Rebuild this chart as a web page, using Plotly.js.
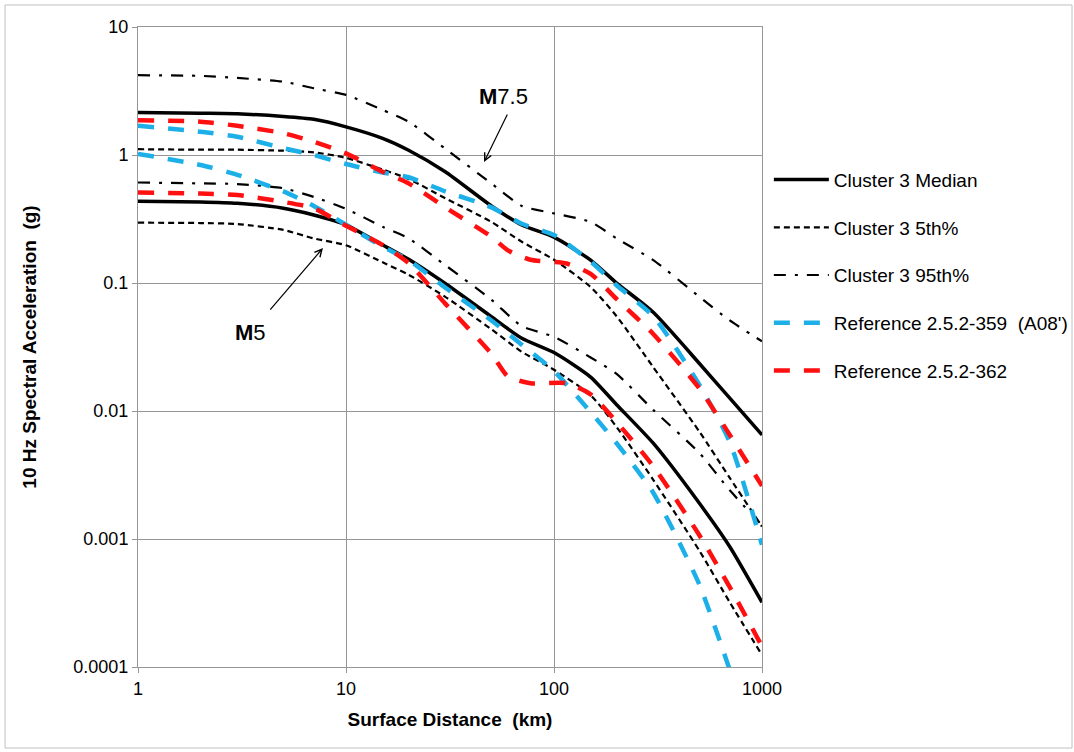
<!DOCTYPE html>
<html>
<head>
<meta charset="utf-8">
<script src="https://cdn.plot.ly/plotly-3.0.1.min.js"></script>
<style>
  html, body { margin: 0; padding: 0; background: #ffffff; }
  #chart { width: 1074px; height: 752px; }
</style>
</head>
<body>
<div id="chart"></div>
<script>
// ---- Data ----
const distanceKm = [1, 2, 3, 5, 7, 10, 15, 20, 30, 50, 70, 100, 150, 200, 300, 500, 700, 1000];
const distanceRed = [1, 2, 3, 5, 7, 10, 15, 20, 30, 50, 60, 77, 115, 150, 200, 300, 500, 700, 1000];
const distanceBlueM5 = [1, 2, 3, 5, 7, 10, 15, 20, 30, 50, 70, 100, 150, 200, 300, 500, 700, 750];

// M 7.5
const medianM75 = [2.15, 2.12, 2.1, 2.0, 1.9, 1.66, 1.35, 1.09, 0.74, 0.40, 0.284, 0.228, 0.151, 0.100, 0.059, 0.0235, 0.0126, 0.0065];
const p05M75    = [1.11, 1.10, 1.10, 1.08, 1.05, 0.95, 0.77, 0.65, 0.46, 0.30, 0.21, 0.152, 0.093, 0.055, 0.022, 0.0069, 0.0030, 0.00125];
const p95M75    = [4.2, 4.15, 4.0, 3.74, 3.32, 2.95, 2.25, 1.82, 1.12, 0.60, 0.40, 0.35, 0.30, 0.223, 0.151, 0.078, 0.051, 0.035];
const ref359M75 = [1.69, 1.52, 1.39, 1.13, 1.0, 0.85, 0.73, 0.67, 0.52, 0.39, 0.29, 0.237, 0.147, 0.096, 0.055, 0.016, 0.0057, 0.0009];
const ref362M75 = [1.87, 1.82, 1.69, 1.48, 1.27, 1.03, 0.74, 0.60, 0.39, 0.23, 0.18, 0.152, 0.142, 0.118, 0.075, 0.040, 0.0150, 0.0065, 0.0026];

// M 5
const medianM5 = [0.435, 0.43, 0.42, 0.384, 0.34, 0.285, 0.198, 0.153, 0.099, 0.0546, 0.037, 0.0286, 0.0184, 0.0112, 0.0056, 0.0019, 0.00087, 0.00032];
const p05M5    = [0.296, 0.294, 0.289, 0.26, 0.223, 0.197, 0.145, 0.116, 0.078, 0.0435, 0.029, 0.021, 0.0133, 0.0075, 0.0029, 0.00081, 0.00032, 0.000124];
const p95M5    = [0.61, 0.60, 0.593, 0.55, 0.47, 0.38, 0.275, 0.223, 0.138, 0.074, 0.046, 0.038, 0.0262, 0.0195, 0.0102, 0.0047, 0.0024, 0.00128];
const ref359M5 = [1.02, 0.836, 0.70, 0.52, 0.40, 0.285, 0.192, 0.151, 0.092, 0.051, 0.033, 0.0205, 0.0098, 0.0056, 0.0023, 0.00044, 0.000095, 0.00007];
const ref362M5 = [0.51, 0.50, 0.487, 0.43, 0.384, 0.28, 0.198, 0.143, 0.069, 0.028, 0.0186, 0.0165, 0.0165, 0.0135, 0.0082, 0.0037, 0.00107, 0.00042, 0.000145];

const seriesNames = ["Cluster 3 Median", "Cluster 3 5th%", "Cluster 3 95th%", "Reference 2.5.2-359  (A08')", "Reference 2.5.2-362"];
const xTickVals = [1, 10, 100, 1000];
const xTickText = ["1", "10", "100", "1000"];
const yTickVals = [10, 1, 0.1, 0.01, 0.001, 0.0001];
const yTickText = ["10", "1", "0.1", "0.01", "0.001", "0.0001"];

// ---- Styles ----
const FONT = "Liberation Sans, Arial, sans-serif";
const styles = [
  {color: "#000000", width: 3.5, dash: "solid"},
  {color: "#000000", width: 2.2, dash: "6px,4px"},
  {color: "#000000", width: 2.2, dash: "12px,9px,3px,9px"},
  {color: "#1DB0E8", width: 4.5, dash: "16px,14px"},
  {color: "#FF1010", width: 4.5, dash: "16px,14px"}
];

function mk(x, y, idx, show) {
  return {
    x: x, y: y, type: "scatter", mode: "lines",
    name: seriesNames[idx], legendgroup: "g" + idx, showlegend: show,
    line: Object.assign({shape: "spline", smoothing: 0.6}, styles[idx]), hoverinfo: "x+y"
  };
}

const traces = [
  mk(distanceKm, medianM75, 0, true),
  mk(distanceKm, medianM5, 0, false),
  mk(distanceKm, p05M75, 1, true),
  mk(distanceKm, p05M5, 1, false),
  mk(distanceKm, p95M75, 2, true),
  mk(distanceKm, p95M5, 2, false),
  mk(distanceKm, ref359M75, 3, true),
  mk(distanceBlueM5, ref359M5, 3, false),
  mk(distanceRed, ref362M75, 4, true),
  mk(distanceRed, ref362M5, 4, false)
];

const axisCommon = {
  type: "log",
  showgrid: true, gridcolor: "#969696", gridwidth: 1,
  showline: true, linecolor: "#969696", linewidth: 1, mirror: true,
  ticks: "outside", ticklen: 5, tickcolor: "#969696",
  zeroline: false, automargin: false,
  tickfont: {family: FONT, size: 18, color: "#000"}
};

const layout = {
  width: 1074, height: 752,
  margin: {l: 138, r: 312, t: 27, b: 85, autoexpand: false},
  paper_bgcolor: "#ffffff", plot_bgcolor: "#ffffff",
  font: {family: FONT, color: "#000"},
  showlegend: true,
  legend: {
    x: 1.011, xanchor: "left", y: 0.791, yanchor: "top",
    font: {family: FONT, size: 19, color: "#000"},
    tracegroupgap: 20, itemwidth: 55,
    bgcolor: "rgba(0,0,0,0)", borderwidth: 0
  },
  xaxis: Object.assign({}, axisCommon, {
    range: [0, 3], tickvals: xTickVals, ticktext: xTickText,
    title: {text: "<b>Surface Distance  (km)</b>", font: {family: FONT, size: 19, color: "#000"}, standoff: 15}
  }),
  yaxis: Object.assign({}, axisCommon, {
    range: [-4, 1], tickvals: yTickVals, ticktext: yTickText,
    title: {text: "<b>10 Hz Spectral Acceleration  (g)</b>", font: {family: FONT, size: 19, color: "#000"}, standoff: 31}
  }),
  annotations: [
    {x: Math.log10(46.1), y: Math.log10(0.882), xref: "x", yref: "y", text: "", showarrow: true,
     ax: 24, ay: -49, arrowhead: 5, arrowsize: 1.2, arrowwidth: 1.2, arrowcolor: "#000"},
    {x: Math.log10(56.9), y: Math.log10(2.84), xref: "x", yref: "y", showarrow: false,
     text: "<b>M</b>7.5", font: {family: FONT, size: 22, color: "#000"}},
    {x: Math.log10(7.75), y: Math.log10(0.1875), xref: "x", yref: "y", text: "", showarrow: true,
     ax: -54, ay: 63, arrowhead: 5, arrowsize: 1.2, arrowwidth: 1.2, arrowcolor: "#000"},
    {x: Math.log10(3.46), y: Math.log10(0.0414), xref: "x", yref: "y", showarrow: false,
     text: "<b>M</b>5", font: {family: FONT, size: 22, color: "#000"}}
  ],
  shapes: [
    {type: "rect", xref: "paper", yref: "paper", x0: -0.2131, x1: 1.4968, y0: -0.1266, y1: 1.0344,
     line: {color: "#c0c0c0", width: 1}, fillcolor: "rgba(0,0,0,0)", layer: "below"}
  ]
};

Plotly.newPlot("chart", traces, layout, {displayModeBar: false, staticPlot: true});
</script>
</body>
</html>
